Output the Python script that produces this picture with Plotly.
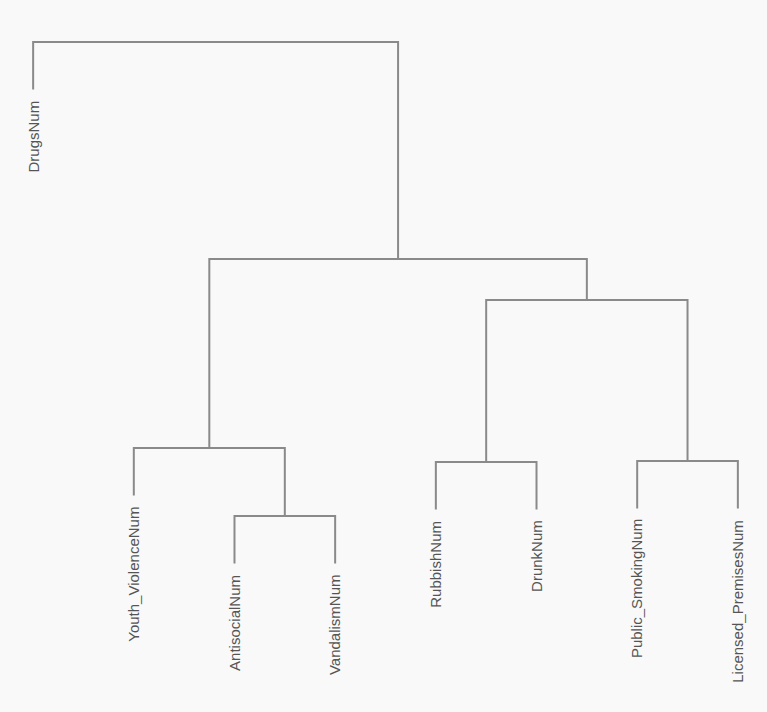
import plotly.graph_objects as go

# leaf labels, left to right as drawn
labels = ["DrugsNum", "Youth_ViolenceNum", "AntisocialNum", "VandalismNum",
          "RubbishNum", "DrunkNum", "Public_SmokingNum", "Licensed_PremisesNum"]

# hclust-style merges: negative = leaf (1-based), positive = earlier merge
merge_left = [-3, -5, -7, -2, 2, 4, -1]
merge_right = [-4, -6, -8, 1, 3, 5, 6]
merge_height = [0.84, 1.38, 1.39, 1.52, 3.00, 3.41, 5.58]

HANG = 0.1
LINE_COLOR = "#8a8a8a"
BG = "#f8f9f8"

hang_len = HANG * (max(merge_height) - min(merge_height))

node_x = {}
node_y = {}
leaf_end = {}

fig = go.Figure()


def child_pos(c, parent_h):
    if c < 0:
        i = -c
        y0 = parent_h - hang_len
        leaf_end[i] = y0
        return i, y0
    return node_x[c], node_y[c]


for k, (a, b, h) in enumerate(zip(merge_left, merge_right, merge_height), start=1):
    xa, ya = child_pos(a, h)
    xb, yb = child_pos(b, h)
    fig.add_trace(go.Scatter(
        x=[xa, xa, xb, xb], y=[ya, h, h, yb],
        mode="lines", line=dict(color=LINE_COLOR, width=2),
        hoverinfo="skip", showlegend=False,
    ))
    node_x[k] = (xa + xb) / 2
    node_y[k] = h

for i, name in enumerate(labels, start=1):
    fig.add_annotation(
        x=i, y=leaf_end[i], text=name, showarrow=False,
        textangle=-90, xanchor="center", yanchor="top", yshift=-9,
        font=dict(family="Liberation Sans, Arial", size=15, color="#555555"),
    )

px_per_unit = (738 - 33) / 7
x_lo, x_hi = 0.8, 8.2
m_l = 33 - (1 - x_lo) * px_per_unit
m_r = 767 - 738 - (x_hi - 8) * px_per_unit

fig.update_layout(
    width=767, height=712,
    margin=dict(l=m_l, r=m_r, t=20, b=62),
    paper_bgcolor=BG, plot_bgcolor=BG,
    xaxis=dict(range=[x_lo, x_hi], visible=False, fixedrange=True),
    yaxis=dict(range=[-0.5, 5.8], visible=False, fixedrange=True),
)

# drop the browser's default body margin so the figure sits at the window corner
fig.write_html("out.html", config={"displayModeBar": False},
               post_script="document.body.style.margin='0';")
